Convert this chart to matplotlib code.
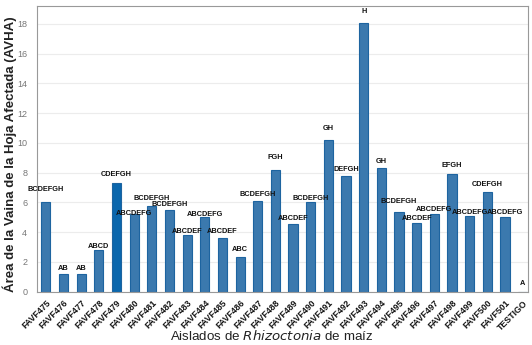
import matplotlib
matplotlib.use("Agg")
import matplotlib.pyplot as plt

plt.rcParams["font.family"] = ["Liberation Sans", "DejaVu Sans"]

# severidad media por aislado y letras del grupo de medias
aislados = ["FAVF475", "FAVF476", "FAVF477", "FAVF478", "FAVF479", "FAVF480",
            "FAVF481", "FAVF482", "FAVF483", "FAVF484", "FAVF485", "FAVF486",
            "FAVF487", "FAVF488", "FAVF489", "FAVF490", "FAVF491", "FAVF492",
            "FAVF493", "FAVF494", "FAVF495", "FAVF496", "FAVF497", "FAVF498",
            "FAVF499", "FAVF500", "FAVF501", "TESTIGO"]
avha = [6.05, 1.17, 1.17, 2.81, 7.30, 5.20, 5.73, 5.50, 3.80, 4.99, 3.62, 2.36,
        6.10, 8.18, 4.56, 6.00, 10.20, 7.75, 18.08, 8.34, 5.35, 4.65, 5.21, 7.91,
        5.08, 6.67, 4.99, 0.0]
grupos = ["BCDEFGH", "AB", "AB", "ABCD", "CDEFGH", "ABCDEFG", "BCDEFGH",
          "BCDEFGH", "ABCDEF", "ABCDEFG", "ABCDEF", "ABC", "BCDEFGH", "FGH",
          "ABCDEF", "BCDEFGH", "GH", "DEFGH", "H", "GH", "BCDEFGH", "ABCDEF",
          "ABCDEFG", "EFGH", "ABCDEFG", "CDEFGH", "ABCDEFG", "A"]

# altura de cada letra sobre su barra
label_lift = [0.83, 0.36, 0.36, 0.22, 0.56, 0.05, 0.52, 0.34, 0.22, 0.22, 0.43,
              0.50, 0.45, 0.81, 0.34, 0.27, 0.76, 0.49, 0.72, 0.43, 0.72, 0.27,
              0.34, 0.60, 0.25, 0.54, 0.34, 0.56]

fig = plt.figure(figsize=(5.32, 3.45), dpi=100)
ax = fig.add_axes([0.0695, 0.1545, 0.923, 0.828])

x = list(range(len(aislados)))
colors = ["#3b79ae"] * len(aislados)
colors[4] = "#0b67ad"
ax.bar(x, avha, width=0.52, color=colors, edgecolor="#1d64a0", linewidth=0.8, zorder=2)

for i in x:
    ax.text(i, avha[i] + label_lift[i], grupos[i], ha="center", va="center",
            fontsize=5.3, fontweight="bold", color="#111111", zorder=3)

ax.set_xlim(-0.5, 27.3)
ax.set_ylim(0, 19.2)
ax.set_yticks(range(0, 19, 2))
ax.yaxis.grid(True, color="#ececec", linewidth=0.8, zorder=0)
ax.tick_params(axis="y", labelsize=6.5, colors="#777777", length=0, pad=7)
ax.tick_params(axis="x", length=0, pad=5)
ax.set_xticks(x)
ax.set_xticklabels(aislados, rotation=45, ha="right", rotation_mode="anchor",
                   fontsize=6.3, fontweight="bold", color="#111111")
for s in ax.spines.values():
    s.set_color("#999999")
    s.set_linewidth(0.8)

fig.text(0.019, 0.554, "Área de la Vaina de la Hoja Afectada (AVHA)", rotation=90,
         ha="center", va="center", fontsize=9.5, fontweight="bold", color="#222222")
fig.text(0.51, 0.026, "Aislados de $\\it{Rhizoctonia}$ de maíz", ha="center",
         va="center", fontsize=9.6, color="#222222")

fig.savefig("out.png", dpi=100)
